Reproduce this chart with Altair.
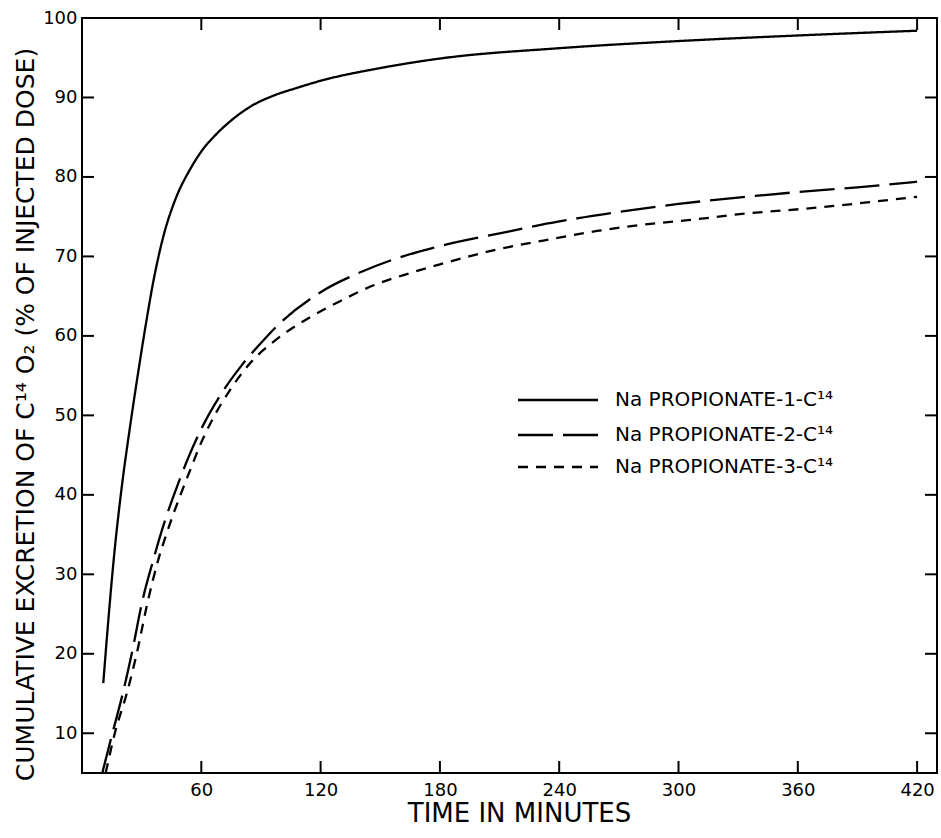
import altair as alt
import pandas as pd

names = ["Na PROPIONATE-1-C¹⁴", "Na PROPIONATE-2-C¹⁴", "Na PROPIONATE-3-C¹⁴"]

t1 = [10.7, 13, 16, 20, 24, 28, 32, 36, 41, 47, 54, 60, 68, 75, 85, 96, 108, 120,
      150, 180, 240, 300, 360, 420]
v1 = [16.3, 23.5, 32, 41, 48.3, 55, 61.3, 67, 72.6, 77.2, 80.8, 83.2, 85.5, 87.1, 88.9,
      90.2, 91.2, 92.1, 93.7, 94.9, 96.2, 97.1, 97.8, 98.4]

t2 = [10.2, 15.3, 20.5, 25, 30.5, 35.5, 41, 47, 53, 60, 70, 80, 90, 100, 120, 140,
      160, 180, 210, 240, 270, 300, 330, 360, 390, 420]
v2 = [5, 10, 15, 20, 26.8, 31.5, 36.2, 40.5, 44.4, 48.3, 52.7, 56.2, 59.1, 61.7, 65.5,
      68.0, 69.9, 71.3, 72.9, 74.4, 75.6, 76.6, 77.4, 78.1, 78.7, 79.4]

t3 = [11.9, 16.5, 22.5, 27.5, 33, 38, 44, 50, 55, 60, 65, 75, 85, 97, 113, 130, 147,
      165, 180, 204, 232, 259, 286, 306, 334, 368, 395, 420]
v3 = [5, 10, 15, 20, 26.5, 31.5, 36.2, 40.3, 43.5, 46.6, 49.2, 53.4, 56.7, 59.4, 62.1,
      64.4, 66.4, 67.9, 69.0, 70.6, 72.0, 73.2, 74.1, 74.6, 75.4, 76.1, 76.8, 77.5]

x_ticks = [60, 120, 180, 240, 300, 360, 420]
y_ticks = [10, 20, 30, 40, 50, 60, 70, 80, 90, 100]
inner_y_ticks = [10, 20, 30, 40, 50, 60, 70, 80, 90]

rows = []
for name, ts, vs in zip(names, [t1, t2, t3], [v1, v2, v3]):
    for t, v in zip(ts, vs):
        rows.append({"series": name, "t": t, "v": v})
df = pd.DataFrame(rows)

W, H = 855, 755
FONT = "DejaVu Sans"
dashes = [[1, 0], [35, 10], [10, 8]]

x_scale = alt.Scale(domain=[0, 430], nice=False, zero=False)
y_scale = alt.Scale(domain=[5, 100], nice=False, zero=False)

lines = alt.Chart(df).mark_line(color="black", strokeWidth=2.3, interpolate="monotone", clip=True).encode(
    x=alt.X("t:Q", scale=x_scale, axis=alt.Axis(
        values=x_ticks, title="TIME IN MINUTES", ticks=False, domain=False, grid=False,
        labelFont=FONT, labelFontSize=18, labelColor="black", labelPadding=8,
        titleFont=FONT, titleFontSize=26, titleFontWeight="normal", titleColor="black",
        titleX=437, titleY=40, titleBaseline="middle", titleAlign="center")),
    y=alt.Y("v:Q", scale=y_scale, axis=alt.Axis(
        values=y_ticks, title="CUMULATIVE EXCRETION OF C¹⁴ O₂ (% OF INJECTED DOSE)",
        ticks=False, domain=False, grid=False,
        labelFont=FONT, labelFontSize=18, labelColor="black", labelPadding=5,
        titleFont=FONT, titleFontSize=25, titleFontWeight="normal", titleColor="black",
        titleAngle=270, titleX=-57, titleY=396, titleBaseline="middle", titleAlign="center")),
    strokeDash=alt.StrokeDash("series:N", scale=alt.Scale(domain=names, range=dashes), legend=None),
    detail="series:N",
)

xt = pd.DataFrame({"t": x_ticks})
yt = pd.DataFrame({"v": inner_y_ticks})
tick_style = dict(color="black", strokeWidth=2)
bottom_ticks = alt.Chart(xt).mark_rule(**tick_style).encode(x="t:Q", y=alt.value(H), y2=alt.value(H - 12))
top_ticks = alt.Chart(xt).mark_rule(**tick_style).encode(x="t:Q", y=alt.value(0), y2=alt.value(12))
left_ticks = alt.Chart(yt).mark_rule(**tick_style).encode(y="v:Q", x=alt.value(0), x2=alt.value(12))
right_ticks = alt.Chart(yt).mark_rule(**tick_style).encode(y="v:Q", x=alt.value(W), x2=alt.value(W - 12))

legend_layers = []
legend_rows_y = [382, 417, 449]
for name, dash, ly in zip(names, dashes, legend_rows_y):
    d = alt.Data(values=[{"label": name}])
    legend_layers.append(
        alt.Chart(d).mark_rule(color="black", strokeWidth=2.3, strokeDash=dash).encode(
            x=alt.value(436), x2=alt.value(516), y=alt.value(ly))
    )
    legend_layers.append(
        alt.Chart(d).mark_text(font=FONT, fontSize=20, align="left", baseline="middle", color="black").encode(
            x=alt.value(533), y=alt.value(ly), text="label:N")
    )

chart = alt.layer(lines, bottom_ticks, top_ticks, left_ticks, right_ticks, *legend_layers).properties(
    width=W, height=H,
    padding={"left": 82, "top": 18, "right": 4, "bottom": 65},
    autosize=alt.AutoSizeParams(type="none"),
    background="white",
).configure_view(stroke="black", strokeWidth=2)

chart.save("out.html", embed_options={"renderer": "svg", "actions": False})
